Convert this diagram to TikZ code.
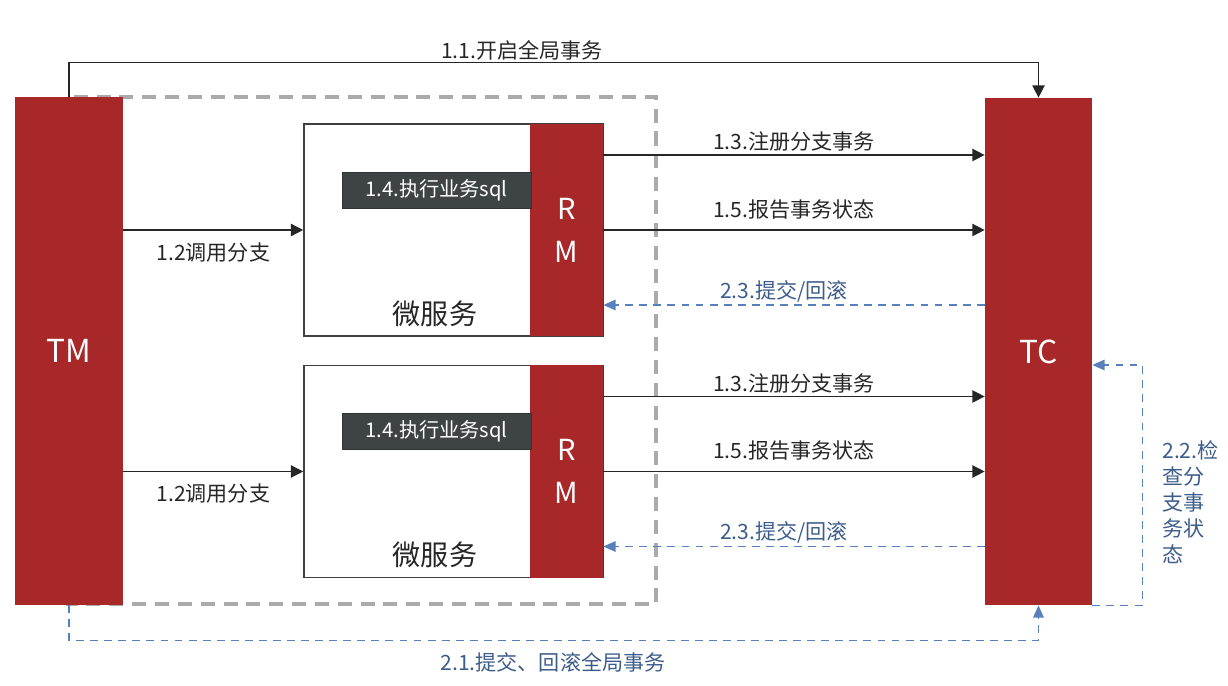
\documentclass[tikz,border=0pt]{standalone}
\usepackage{fontspec}
\setmainfont{Noto Sans CJK SC}
\usepackage{xcolor}
\usetikzlibrary{positioning, calc, arrows.meta}

\definecolor{tmred}{RGB}{168,39,40}
\definecolor{sqlgray}{RGB}{62,68,68}
\definecolor{flowblue}{RGB}{88,128,188}
\definecolor{textblue}{RGB}{60,92,138}
\definecolor{framegray}{RGB}{170,170,170}
\definecolor{textdark}{RGB}{38,38,38}

\begin{document}
\begin{tikzpicture}[
    % boxes
    redbox/.style={fill=tmred, text=white, inner sep=0pt, font=\fontsize{18}{20}\selectfont},
    rmbox/.style={fill=tmred, text=white, minimum width=1.46cm, minimum height=4.24cm, align=center, inner sep=0pt, font=\fontsize{16.5}{24.5}\selectfont},
    svcbox/.style={draw=black!75, line width=0.9pt, fill=white, minimum width=5.98cm, minimum height=4.24cm, inner sep=0pt},
    sqlbox/.style={fill=sqlgray, draw=black!80, text=white, minimum width=3.78cm, minimum height=0.72cm, inner sep=0pt, font=\fontsize{11.5}{13}\selectfont},
    svctxt/.style={text=textdark, inner sep=0pt, font=\fontsize{16}{18}\selectfont},
    % labels
    lbl/.style={text=textdark, inner sep=0pt, font=\fontsize{12}{14}\selectfont},
    bluelbl/.style={text=textblue, inner sep=0pt, font=\fontsize{12}{14.8}\selectfont},
    % connectors
    call/.style={draw=black!85, line width=0.8pt, -{Triangle[length=7pt,width=7pt]}},
    back/.style={draw=flowblue, line width=0.8pt, dash pattern=on 4.5pt off 3.5pt, -{Triangle[length=7pt,width=6pt]}},
    frame/.style={draw=framegray, line width=2.3pt, dash pattern=on 8pt off 5pt}
]
\useasboundingbox (0,0) rectangle (24.56,-13.72);

% dashed frame round the services
\draw[frame] (1.36,-1.94) rectangle (13.12,-12.08);

% TM and TC
\node[redbox, minimum width=2.16cm, minimum height=10.16cm] (TM) at (1.38,-7.02) {TM};
\node[redbox, minimum width=2.14cm, minimum height=10.14cm] (TC) at (20.77,-7.03) {TC};

% two services, each with its RM
\foreach \s/\y in {A/-4.6, B/-9.43}{
    \node[svcbox] (svc\s) at (9.07,\y) {};
    \node[rmbox] (rm\s) at (11.33,\y) {R\\M};
    \node[sqlbox] (sql\s) at ($(svc\s.center)+(-0.34,0.8)$) {1.4.执行业务sql};
    \node[svctxt] (txt\s) at ($(svc\s.south)+(-0.37,0.46)$) {微服务};
}

% 1.1 begin global transaction
\draw[call] (TM.north) -- ++(0,0.68) -| (TC.north);
\node[lbl] (begin) at (10.44,-1.0) {1.1.开启全局事务};

% calls, registrations, reports and commits per branch
\foreach \s in {A,B}{
    \draw[call] (TM.east |- svc\s.west) -- node[lbl, below=0.24cm]{1.2调用分支} (svc\s.west);
    \path ([yshift=1.5cm]rm\s.east) coordinate (reg\s)
          ([yshift=-1.5cm]rm\s.east) coordinate (ack\s);
    \draw[call] (reg\s) -- node[lbl, above=0.05cm]{1.3.注册分支事务} (TC.west |- reg\s);
    \draw[call] (rm\s.east) -- node[lbl, above=0.2cm]{1.5.报告事务状态} (TC.west |- rm\s.east);
    \draw[back] (TC.west |- ack\s) -- node[bluelbl, above=0.05cm, xshift=-0.2cm]{2.3.提交/回滚} (ack\s);
}

% 2.1 commit / rollback global transaction
\draw[back] (TM.south) -- ++(0,-0.7) -| (TC.south);
\node[bluelbl] (finish) at (11.06,-13.24) {2.1.提交、回滚全局事务};

% 2.2 check branch state
\draw[back] (TC.south east) -- ++(1.0,0) coordinate (chk) |- ([yshift=-0.27cm]TC.east);
\node[bluelbl, align=left, anchor=west] (check) at (23.24,-10.04) {2.2.检\\查分\\支事\\务状\\态};

\end{tikzpicture}
\end{document}
